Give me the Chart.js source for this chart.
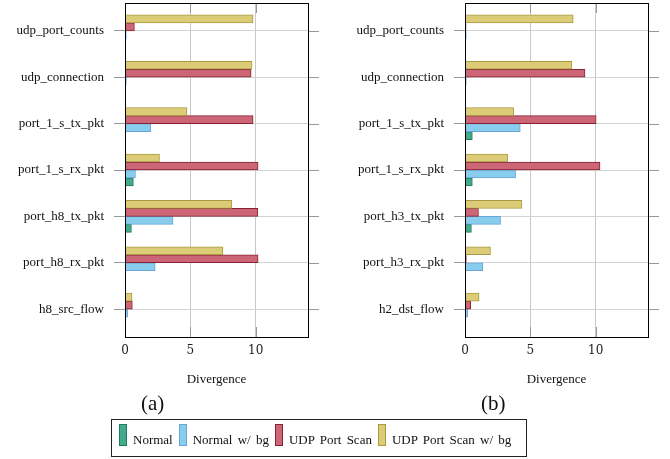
<!DOCTYPE html>
<html>
<head>
<meta charset="utf-8">
<script src="https://cdn.jsdelivr.net/npm/chart.js@4.4.0/dist/chart.umd.min.js"></script>
<style>
  body { margin: 0; background: #fff; width: 670px; height: 459px; position: relative; overflow: hidden; font-family: 'Liberation Serif', serif; }
  .panel { position: absolute; top: 0; }
  .cap { position: absolute; top: 391px; font-size: 21px; color: #111; }
  #legend { position: absolute; left: 111px; top: 419px; width: 416px; height: 38px; border: 1px solid #222; display: flex; align-items: flex-start; padding-left: 7px; box-sizing: border-box; font-size: 13px; color: #111; word-spacing: 2px; white-space: nowrap; }
  #legend .it { display: flex; align-items: flex-start; margin-right: 6px; }
  #legend .sw { width: 6px; height: 20px; border: 1px solid; margin-right: 6px; margin-top: 4px; }
  #legend span { margin-top: 12px; line-height: 15px; }
</style>
</head>
<body>
<div class="panel" style="left:0"><canvas id="chartA" width="330" height="395"></canvas></div>
<div class="panel" style="left:340px"><canvas id="chartB" width="330" height="395"></canvas></div>
<div class="cap" style="left:141px">(a)</div>
<div class="cap" style="left:481px">(b)</div>
<div id="legend"></div>

<script>
// data
const catsA = ['udp_port_counts', 'udp_connection', 'port_1_s_tx_pkt', 'port_1_s_rx_pkt', 'port_h8_tx_pkt', 'port_h8_rx_pkt', 'h8_src_flow'];
const catsB = ['udp_port_counts', 'udp_connection', 'port_1_s_tx_pkt', 'port_1_s_rx_pkt', 'port_h3_tx_pkt', 'port_h3_rx_pkt', 'h2_dst_flow'];
const xTicks = [0, 5, 10];

const seriesNames = ['Normal', 'Normal w/ bg', 'UDP Port Scan', 'UDP Port Scan w/ bg'];

const normalA     = [0.06, 0.06, 0.06, 0.64, 0.49, 0.06, 0.06];
const normalBgA   = [0.1, 0.1, 1.98, 0.8, 3.67, 2.31, 0.2];
const udpScanA    = [0.72, 9.65, 9.8, 10.18, 10.16, 10.18, 0.56];
const udpScanBgA  = [9.8, 9.72, 4.75, 2.64, 8.18, 7.49, 0.54];

const normalB     = [0.06, 0.06, 0.56, 0.56, 0.49, 0.06, 0.06];
const normalBgB   = [0.1, 0.1, 4.23, 3.87, 2.72, 1.36, 0.21];
const udpScanB    = [0.08, 9.18, 10.03, 10.33, 1.03, 0.1, 0.44];
const udpScanBgB  = [8.28, 8.18, 3.72, 3.26, 4.36, 1.95, 1.08];

const fills   = ['#44aa8e', '#88ccee', '#cc6677', '#ddcc77'];
const borders = ['#1f7a5c', '#66a6d8', '#882233', '#a89a40'];

// draws the box, tick stubs right of the plot and inner ticks on grid lines
const frame = {
  id: 'frame',
  afterDraw(chart) {
    const {ctx, chartArea: a, scales: {x, y}} = chart;
    ctx.save();
    ctx.lineWidth = 1;
    ctx.strokeStyle = '#999';
    ctx.beginPath();
    y.ticks.forEach(t => {
      const py = Math.round(y.getPixelForValue(t.value)) + 0.5;
      ctx.moveTo(a.right, py); ctx.lineTo(a.right + 11, py);
    });
    x.ticks.forEach(t => {
      const px = Math.round(x.getPixelForValue(t.value)) + 0.5;
      ctx.moveTo(px, a.top); ctx.lineTo(px, a.top + 10);
      ctx.moveTo(px, a.bottom); ctx.lineTo(px, a.bottom - 10);
    });
    ctx.stroke();
    ctx.strokeStyle = '#000';
    ctx.strokeRect(Math.round(a.left) + 0.5, Math.round(a.top) + 0.5, Math.round(a.width), Math.round(a.height));
    ctx.restore();
  }
};

function makeChart(id, cats, series) {
  // top of each group is the last series, so feed them reversed
  const order = [3, 2, 1, 0];
  const datasets = order.map(k => ({
    label: seriesNames[k],
    data: series[k].map((v, i) => ({x: v, y: i})),
    backgroundColor: fills[k],
    borderColor: borders[k],
    borderWidth: 1,
    barThickness: 8
  }));

  return new Chart(document.getElementById(id), {
    type: 'bar',
    data: { datasets },
    plugins: [frame],
    options: {
      indexAxis: 'y',
      responsive: false,
      animation: false,
      devicePixelRatio: 1,
      layout: { padding: { top: 3, right: 22, left: 0, bottom: 0 } },
      plugins: { legend: { display: false }, tooltip: { enabled: false } },
      scales: {
        x: {
          type: 'linear',
          min: 0, max: 14,
          afterBuildTicks: s => { s.ticks = xTicks.map(v => ({value: v})); },
          afterFit: s => { s.height = 58; },
          grid: { color: '#c8c8c8', drawTicks: false },
          border: { display: false },
          ticks: { padding: 7, color: '#222', font: { family: 'DejaVu Serif', size: 12 } },
          title: { display: true, text: 'Divergence', color: '#111', padding: { top: 0, bottom: 8 },
                   font: { family: 'Liberation Serif', size: 13 } }
        },
        y: {
          type: 'linear',
          min: -0.6, max: 6.6,
          reverse: true,
          offset: false,
          afterBuildTicks: s => { s.ticks = cats.map((c, i) => ({value: i})); },
          afterFit: s => { s.width = 125; s.paddingTop = 0; s.paddingBottom = 0; },
          grid: { offset: false, color: '#d2d2d2', tickColor: '#999', tickLength: 11 },
          border: { display: false },
          ticks: { padding: 10, color: '#111', autoSkip: false,
                   callback: v => cats[v],
                   font: { family: 'Liberation Serif', size: 13 } }
        }
      }
    }
  });
}

makeChart('chartA', catsA, [normalA, normalBgA, udpScanA, udpScanBgA]);
makeChart('chartB', catsB, [normalB, normalBgB, udpScanB, udpScanBgB]);

// legend
const legend = document.getElementById('legend');
seriesNames.forEach((name, k) => {
  const it = document.createElement('div');
  it.className = 'it';
  const sw = document.createElement('div');
  sw.className = 'sw';
  sw.style.background = fills[k];
  sw.style.borderColor = borders[k];
  const tx = document.createElement('span');
  tx.textContent = name;
  it.appendChild(sw);
  it.appendChild(tx);
  legend.appendChild(it);
});
</script>
</body>
</html>
